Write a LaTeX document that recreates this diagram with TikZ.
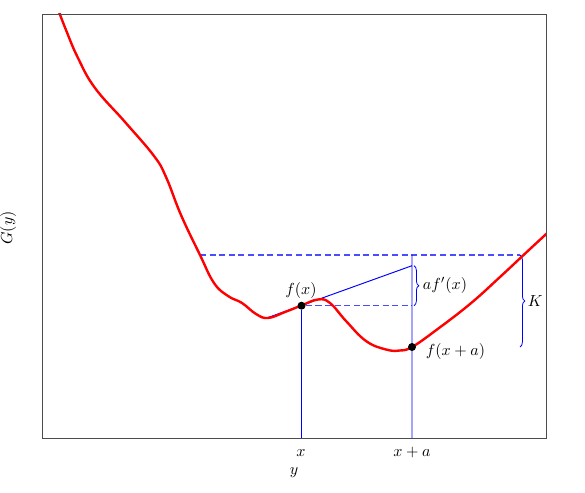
\documentclass[tikz,border=0pt]{standalone}
\usetikzlibrary{decorations.pathreplacing,calc}
\definecolor{guideblue}{rgb}{0,0,1}
\definecolor{dashblue}{rgb}{0.3,0.3,1}
\begin{document}
\begin{tikzpicture}[x=0.625pt,y=-0.625pt,
  frame/.style={draw=black!70,line width=0.6pt},
  curve/.style={draw=red,line width=1.5pt,line join=round},
  guide/.style={draw=guideblue,line width=0.6pt},
  dashguide/.style={draw=dashblue,line width=0.7pt,dash pattern=on 3.8pt off 2.2pt},
  bracebl/.style={draw=guideblue,line width=0.5pt,decorate,decoration={brace,amplitude=3pt}},
  dot/.style={circle,inner sep=0pt,minimum size=5pt},
  lbl/.style={inner sep=1pt}]
\useasboundingbox (0,0) rectangle (585,493);
% coordinates
\coordinate (fl) at (42,438);
\coordinate (tr) at (546,14);
\coordinate (dl) at (200,255);
\coordinate (dr) at (520,255);
\coordinate (kb) at (520,347);
\coordinate (tan0) at (266.7,318);
\coordinate (tan1) at (412,265.7);
\coordinate (xa0) at (412,255);
\coordinate (xb) at (301.5,438);
\coordinate (xab) at (412,438);
\coordinate (dm) at (412,305.7);
\node[dot] (fx) at (301.5,305.7) {};
\node[dot] (fxa) at (412,347) {};
% guides
\draw[dashguide] (dl) -- (dr) (fx.east) -- (dm);
\draw[guide] (tan0) -- (tan1) (xa0) -- (xab) (fx.south) -- (xb);
\draw[bracebl] ($(tan1)+(2,0)$) -- ($(dm)+(2,0)$);
\draw[bracebl] (dr) -- (kb);
% curve
\begin{scope}
\clip (fl) rectangle (tr);
\draw[curve] plot[smooth,tension=0.7] coordinates {
 (56,4) (66,30) (78,58) (95,88) (125,122) (154,156) (166,177) (181,215)
 (200,255) (214,283) (228,296) (242,303) (256,314) (268,318) (285,312)
 (301,305.7) (318,299.5) (330,303) (346,321) (366,341) (386,349.5)
 (400,350.5) (412,347) (435,331) (470,304) (500,277) (530,249) (556,225)};
\end{scope}
\fill[black] (fx.center) circle (2.5pt);
\fill[black] (fxa.center) circle (2.5pt);
% frame
\draw[frame] (fl) rectangle (tr);
% labels
\node[lbl] (lfx) at (301,291) {$f(x)$};
\node[lbl,anchor=west] (laf) at (421,285) {$af'(x)$};
\node[lbl,anchor=west] (lk) at (526,301) {$K$};
\node[lbl,anchor=west] (lfxa) at (424,352) {$f(x+a)$};
\node[lbl] (lx) at (301,453) {$x$};
\node[lbl] (lxa) at (412,453) {$x+a$};
\node[lbl] (ly) at (294,473) {$y$};
\node[lbl,rotate=90] (lg) at (8,228) {$G(y)$};
\end{tikzpicture}
\end{document}
